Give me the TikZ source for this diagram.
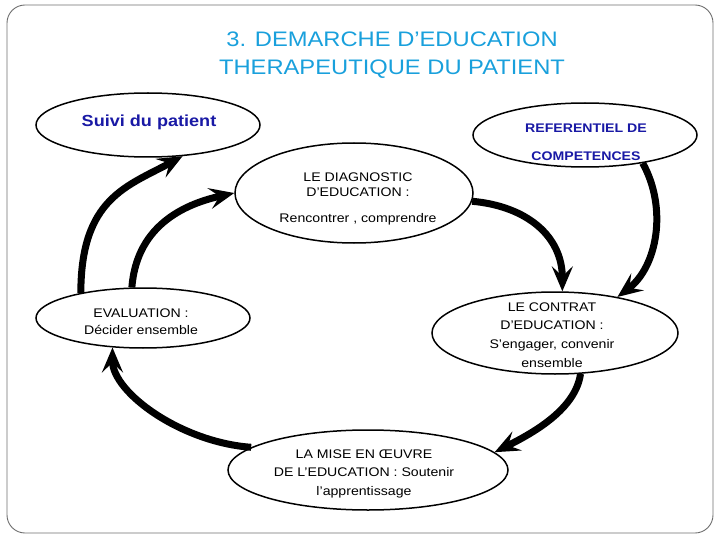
\documentclass[tikz,border=0pt]{standalone}
\usepackage{fontspec}
\setmainfont{Liberation Sans}[FakeStretch=1.13]
\usetikzlibrary{shapes.geometric,arrows.meta}
\definecolor{titleblue}{RGB}{25,160,220}
\definecolor{darkblue}{RGB}{25,25,165}
\definecolor{framegrey}{RGB}{110,110,110}
\tikzset{
  oval/.style={ellipse, draw=black, line width=1.5pt, fill=white, inner sep=0pt},
  txt/.style={align=center, inner sep=0pt, font=\fontsize{12.5}{18}\selectfont},
  flow/.style={line width=7pt, -{Stealth[length=25pt,width=21pt,inset=10pt]}},
}
\begin{document}
\begin{tikzpicture}[x=1pt,y=-1pt]
\useasboundingbox (0,0) rectangle (720,540);
\draw[framegrey, line width=0.9pt, rounded corners=18pt] (7,5) rectangle (713,533);

\node[text=titleblue, align=center, font=\fontsize{21}{28}\selectfont] (title) at (392,55)
  {3. DEMARCHE D’EDUCATION\\THERAPEUTIQUE DU PATIENT};

\node[oval, minimum width=224pt, minimum height=64pt] (suivi) at (148,125) {};
\node[txt, text=darkblue, font=\bfseries\fontsize{16}{18}\selectfont] (suiviT) at (149,122) {Suivi du patient};

\node[oval, minimum width=224pt, minimum height=64pt] (ref) at (585,135) {};
\node[txt, text=darkblue, font=\bfseries\fontsize{12.5}{28}\selectfont] (refT) at (586,142) {REFERENTIEL DE\\COMPETENCES};

\node[oval, minimum width=238pt, minimum height=100pt] (diag) at (354,193) {};
\node[txt, font=\fontsize{12.5}{15}\selectfont] (diagT) at (358,199) {LE DIAGNOSTIC\\D’EDUCATION :\\[11pt]Rencontrer , comprendre};

\node[oval, minimum width=214pt, minimum height=60pt] (eval) at (143,318) {};
\node[txt, font=\fontsize{12.5}{17}\selectfont] (evalT) at (141,322) {EVALUATION :\\Décider ensemble};

\node[oval, minimum width=246pt, minimum height=82pt] (contrat) at (555,333) {};
\node[txt, font=\fontsize{12.5}{18.7}\selectfont] (contratT) at (552,335) {LE CONTRAT\\D’EDUCATION :\\S’engager, convenir\\ensemble};

\node[oval, minimum width=280pt, minimum height=80pt] (mise) at (368,470) {};
\node[txt, font=\fontsize{12.5}{18.5}\selectfont] (miseT) at (364,473.5) {LA MISE EN ŒUVRE\\DE L’EDUCATION : Soutenir\\l’apprentissage};

\draw[flow] (eval.158) .. controls +(0,-95) and +(-55,30) .. (suivi.318);
\draw[flow] (eval.110) .. controls +(5,-65) and +(-45,10) .. (diag.180);
\draw[flow] (diag.356) .. controls +(55,5) and +(0,-55) .. (contrat.80);
\draw[flow] (ref.334) .. controls +(25,45) and +(40,-30) .. (contrat.30);
\draw[flow] (contrat.302) .. controls +(-5,35) and +(40,-20) .. (mise.8.5);
\draw[flow] (mise.169) .. controls +(-70,-5) and +(0,45) .. (eval.224);
\end{tikzpicture}
\end{document}
